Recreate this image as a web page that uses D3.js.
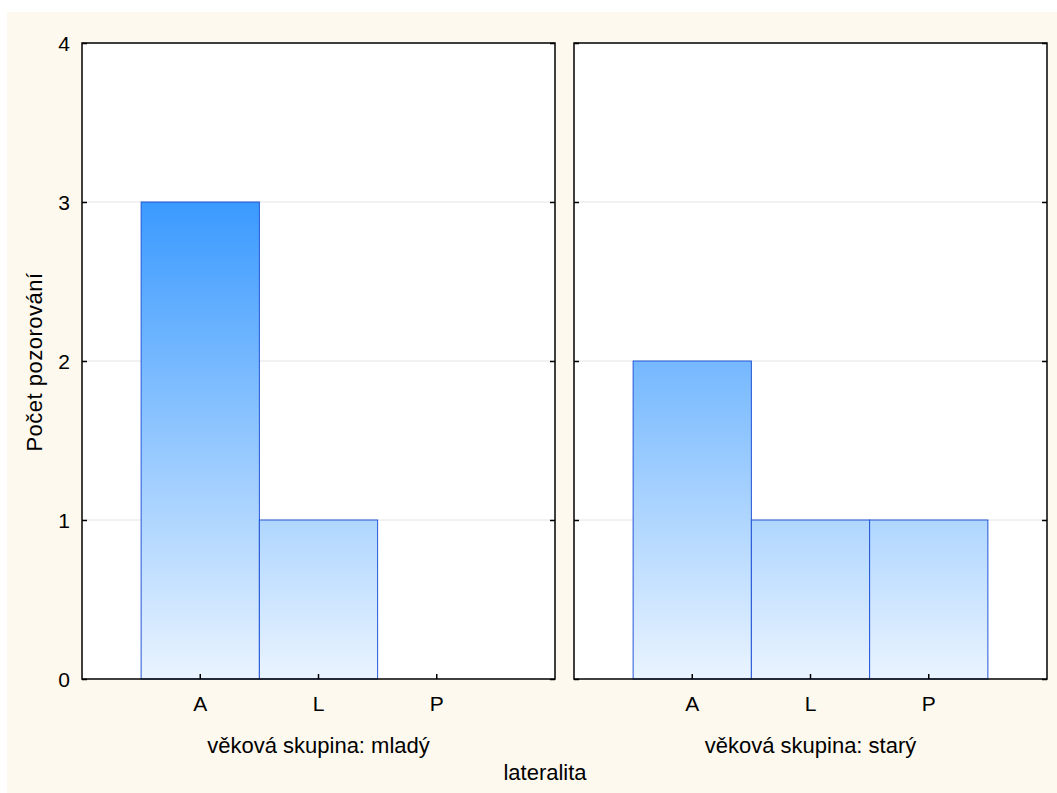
<!DOCTYPE html>
<html><head><meta charset="utf-8">
<script src="https://cdn.jsdelivr.net/npm/d3@7"></script>
<style>body{margin:0;background:#fff}svg{display:block}text{font-family:"Liberation Sans",Arial,sans-serif;fill:#000}</style>
</head><body><svg id="c" width="1057" height="793"></svg>
<script>
const categories = ["A","L","P"];
const groups = ["věková skupina: mladý","věková skupina: starý"];
const counts = [[3,1,0],[2,1,1]];
const yTicks = [0,1,2,3,4];
const yLabel = "Počet pozorování";
const xLabel = "lateralita";

(function(){
const svg = d3.select("#c");
svg.append("rect").attr("x",7).attr("y",12).attr("width",1050).attr("height",781).attr("fill","#fdf9ee");

const plotTop = 43, plotBottom = 679;
const panelX = [[82,555],[574,1047]];
const y = d3.scaleLinear().domain([0,4]).range([plotBottom, plotTop]);

const defs = svg.append("defs");
const grad = defs.append("linearGradient").attr("id","g").attr("gradientUnits","userSpaceOnUse")
  .attr("x1",0).attr("x2",0).attr("y1",y(0)).attr("y2",y(3));
grad.append("stop").attr("offset",0).attr("stop-color","#eaf4ff");
grad.append("stop").attr("offset",1).attr("stop-color","#3a9aff");

groups.forEach((g,i)=>{
  const [x0,x1] = panelX[i];
  const x = d3.scaleBand().domain(categories).range([x0,x1]).paddingInner(0).paddingOuter(0.5);
  const p = svg.append("g");
  p.append("rect").attr("x",x0).attr("y",plotTop).attr("width",x1-x0).attr("height",plotBottom-plotTop).attr("fill","#fff");
  p.selectAll(".grid").data(yTicks.filter(t=>t>0&&t<4)).join("line")
    .attr("x1",x0).attr("x2",x1).attr("y1",d=>y(d)).attr("y2",d=>y(d))
    .attr("stroke","#e4e4e4").attr("stroke-width",1);
  p.selectAll(".bar").data(categories.map((c,j)=>({c,v:counts[i][j]}))).join("rect")
    .attr("x",d=>x(d.c)).attr("width",x.bandwidth())
    .attr("y",d=>y(d.v)).attr("height",d=>y(0)-y(d.v))
    .attr("fill","url(#g)").attr("stroke","#2456d6").attr("stroke-width",1);
  const xa = d3.axisBottom(x).tickSize(-5).tickPadding(14);
  const gx = p.append("g").attr("transform",`translate(0,${plotBottom})`).call(xa);
  gx.attr("font-size",null).attr("font-family",null);
  gx.select(".domain").remove();
  gx.selectAll("text").attr("dy",null).attr("y",32).attr("font-size",21);
  const gl = p.append("g").attr("transform",`translate(${x0},0)`)
    .call(d3.axisRight(y).tickValues(yTicks).tickSize(5).tickFormat(""));
  gl.select(".domain").remove();
  const gr = p.append("g").attr("transform",`translate(${x1},0)`)
    .call(d3.axisLeft(y).tickValues(yTicks).tickSize(5).tickFormat(""));
  gr.select(".domain").remove();
  p.selectAll(".tick line").attr("stroke","#000").attr("stroke-width",1.5);
  p.append("rect").attr("x",x0).attr("y",plotTop).attr("width",x1-x0).attr("height",plotBottom-plotTop)
    .attr("fill","none").attr("stroke","#000").attr("stroke-width",1.5);
  p.append("text").attr("x",(x0+x1)/2).attr("y",753).attr("text-anchor","middle")
    .attr("font-size",22).text(g);
});

svg.append("g").selectAll("text").data(yTicks).join("text")
  .attr("x",70).attr("y",d=>y(d)).attr("dy","0.36em").attr("text-anchor","end").attr("font-size",21).text(d=>d);

svg.append("text").attr("transform","translate(42,362) rotate(-90)").attr("text-anchor","middle")
  .attr("font-size",22).attr("letter-spacing","0.5px").text(yLabel);
svg.append("text").attr("x",545).attr("y",780).attr("text-anchor","middle").attr("font-size",22).text(xLabel);
})();
</script></body></html>
